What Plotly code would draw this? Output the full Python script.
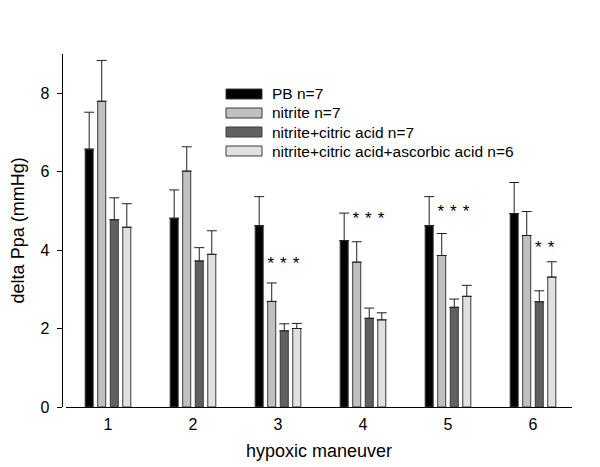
"""Delta Ppa per hypoxic maneuver, grouped bar chart with upper SE bars."""

import plotly.graph_objects as go

maneuvers = [1, 2, 3, 4, 5, 6]
series_names = [
    "PB n=7",
    "nitrite n=7",
    "nitrite+citric acid n=7",
    "nitrite+citric acid+ascorbic acid n=6",
]
series_colors = ["#000000", "#c0c0c0", "#606060", "#e0e0e0"]

pb = [6.57, 4.81, 4.62, 4.24, 4.62, 4.93]
pb_err = [0.94, 0.72, 0.74, 0.70, 0.74, 0.79]
nitrite = [7.79, 6.01, 2.69, 3.69, 3.86, 4.37]
nitrite_err = [1.04, 0.62, 0.47, 0.52, 0.56, 0.61]
citric = [4.77, 3.72, 1.94, 2.26, 2.54, 2.68]
citric_err = [0.56, 0.34, 0.18, 0.26, 0.21, 0.28]
ascorbic = [4.58, 3.89, 2.00, 2.22, 2.82, 3.31]
ascorbic_err = [0.60, 0.60, 0.13, 0.18, 0.28, 0.39]

values = [pb, nitrite, citric, ascorbic]
errors = [pb_err, nitrite_err, citric_err, ascorbic_err]

# significance stars: (maneuver, series index, height)
star_maneuver = [3, 3, 3, 4, 4, 4, 5, 5, 5, 6, 6]
star_series = [1, 2, 3, 1, 2, 3, 1, 2, 3, 2, 3]
star_y = [3.62, 3.62, 3.62, 4.76, 4.76, 4.76, 4.96, 4.96, 4.96, 4.03, 4.03]

FONT = "Liberation Sans, Arial, sans-serif"
W, H, OFF = 592, 459, 8  # page body adds an 8px margin


def px(x):
    return (x - OFF) / W


def py(y):
    return 1 - (y - OFF) / H


n_series = len(values)
bargap = 0.41
slot = (1 - bargap) / n_series

fig = go.Figure()
for name, color, vals, errs in zip(series_names, series_colors, values, errors):
    fig.add_trace(go.Bar(
        x=maneuvers, y=vals, name=name,
        marker=dict(color=color, line=dict(color="#3a3a3a", width=1)),
        error_y=dict(type="data", symmetric=False, array=errs,
                     arrayminus=[0] * len(errs), color="#202020",
                     thickness=1, width=5),
        showlegend=False,
    ))

star_x = [m + (s - (n_series - 1) / 2) * slot - 0.01 for m, s in zip(star_maneuver, star_series)]
fig.add_trace(go.Scatter(
    x=star_x, y=star_y, mode="text", text=["*"] * len(star_x),
    textfont=dict(family=FONT, size=17, color="#000000"),
    showlegend=False, hoverinfo="skip",
))

# legend drawn by hand: long flat swatches like the original
for i, (name, color) in enumerate(zip(series_names, series_colors)):
    yc = 94 + 19 * i
    fig.add_shape(type="rect", xref="paper", yref="paper",
                  x0=px(226), x1=px(262), y0=py(yc + 5), y1=py(yc - 5),
                  fillcolor=color, line=dict(color="#3a3a3a", width=1))
    fig.add_annotation(xref="paper", yref="paper", x=px(270), y=py(yc),
                       text=name, showarrow=False, xanchor="left", yanchor="middle",
                       font=dict(family=FONT, size=15.5, color="#000000"))

fig.update_layout(
    width=W, height=H,
    margin=dict(l=0, r=0, t=0, b=0),
    plot_bgcolor="white", paper_bgcolor="white",
    barmode="group", bargap=bargap, bargroupgap=0.36,
    font=dict(family=FONT, color="#000000"),
    xaxis=dict(
        domain=[px(66), px(572)], range=[0.506, 6.459],
        tickvals=maneuvers, ticktext=[str(m) for m in maneuvers],
        ticks="", ticklabelstandoff=3,
        showline=True, linecolor="#000000", linewidth=1,
        showgrid=False, zeroline=False,
        tickfont=dict(size=16),
        title=dict(text="hypoxic maneuver", font=dict(size=18), standoff=12),
        automargin=False,
    ),
    yaxis=dict(
        domain=[py(407), py(53.75)], range=[0, 9],
        anchor="free", position=px(61.5),
        tickvals=[0, 2, 4, 6, 8], ticks="outside", ticklen=5,
        tickcolor="#000000", ticklabelstandoff=4,
        showline=True, linecolor="#000000", linewidth=1,
        showgrid=False, zeroline=False,
        tickfont=dict(size=16),
        title=dict(text="delta Ppa (mmHg)", font=dict(size=18), standoff=12),
        automargin=False,
    ),
)

fig.write_html("out.html")
